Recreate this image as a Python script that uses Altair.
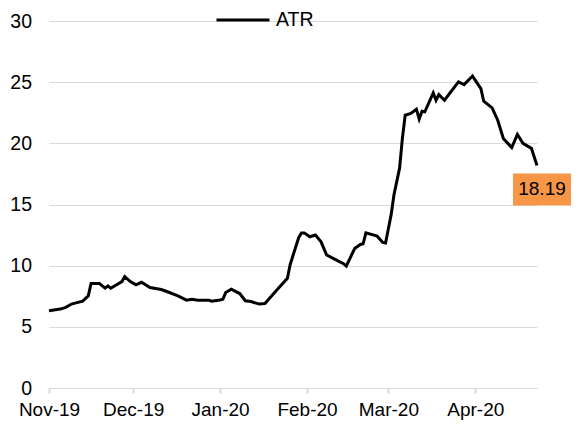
import altair as alt
import pandas as pd

dates = [
    "2019-11-01", "2019-11-05", "2019-11-07", "2019-11-09", "2019-11-11", "2019-11-13",
    "2019-11-15", "2019-11-16", "2019-11-19", "2019-11-21", "2019-11-22", "2019-11-23",
    "2019-11-27", "2019-11-28", "2019-11-30", "2019-12-02", "2019-12-04", "2019-12-07",
    "2019-12-11", "2019-12-13", "2019-12-17", "2019-12-20", "2019-12-22", "2019-12-24",
    "2019-12-28", "2019-12-29", "2020-01-01", "2020-01-02", "2020-01-03", "2020-01-05",
    "2020-01-08", "2020-01-10", "2020-01-12", "2020-01-15", "2020-01-17", "2020-01-21",
    "2020-01-25", "2020-01-26", "2020-01-29", "2020-01-30", "2020-01-31", "2020-02-02",
    "2020-02-04", "2020-02-06", "2020-02-08", "2020-02-11", "2020-02-14", "2020-02-15",
    "2020-02-18", "2020-02-20", "2020-02-21", "2020-02-22", "2020-02-26", "2020-02-28",
    "2020-02-29", "2020-03-02", "2020-03-03", "2020-03-05", "2020-03-06", "2020-03-07",
    "2020-03-09", "2020-03-11", "2020-03-12", "2020-03-13", "2020-03-14", "2020-03-17",
    "2020-03-18", "2020-03-19", "2020-03-21", "2020-03-26", "2020-03-28", "2020-03-31",
    "2020-04-03", "2020-04-04", "2020-04-07", "2020-04-09", "2020-04-11", "2020-04-14",
    "2020-04-16", "2020-04-18", "2020-04-21", "2020-04-23",
]
atr = [
    6.32, 6.45, 6.59, 6.86, 6.98, 7.10,
    7.53, 8.54, 8.54, 8.16, 8.35, 8.16,
    8.70, 9.10, 8.70, 8.43, 8.64, 8.21,
    8.05, 7.89, 7.53, 7.18, 7.26, 7.18,
    7.18, 7.10, 7.20, 7.25, 7.80, 8.07,
    7.72, 7.13, 7.07, 6.86, 6.91, 7.94,
    8.97, 10.10, 12.28, 12.68, 12.68, 12.36,
    12.50, 11.95, 10.87, 10.51, 10.16, 9.97,
    11.41, 11.73, 11.79, 12.68, 12.41, 11.90,
    11.85, 14.17, 15.80, 17.97, 20.40, 22.30,
    22.44, 22.79, 21.98, 22.63, 22.58, 24.12,
    23.52, 23.98, 23.52, 25.02, 24.80, 25.50,
    24.47, 23.44, 22.90, 21.89, 20.40, 19.65,
    20.73, 20.00, 19.59, 18.19,
]
series_name = "ATR"
y_ticks = [0, 5, 10, 15, 20, 25, 30]
month_ticks = [(2019, 11), (2019, 12), (2020, 1), (2020, 2), (2020, 3), (2020, 4)]

df = pd.DataFrame({"date": dates, "value": atr, "series": series_name})
last = df.tail(1)

FONT = "Liberation Sans"
GRID = "#d9d9d9"
FS = 19.5

x_scale = alt.Scale(
    type="utc",
    domain=[alt.DateTime(year=2019, month=11, date=1, utc=True),
            alt.DateTime(year=2020, month=4, date=23, utc=True)],
)
y_scale = alt.Scale(domain=[0, 30], nice=False, zero=True)

x_axis = alt.Axis(
    title=None, labelExpr="utcFormat(datum.value, '%b-%y')",
    values=[alt.DateTime(year=y, month=m, date=1, utc=True) for y, m in month_ticks],
    labelOverlap=False, labelFlush=False,
    grid=False, domain=True, domainColor=GRID, domainWidth=1,
    ticks=True, tickColor=GRID, tickSize=5, tickWidth=2,
    labelFont=FONT, labelFontSize=19, labelColor="#000000", labelPadding=7,
)
y_axis = alt.Axis(
    title=None, values=y_ticks, grid=True, gridColor=GRID, gridWidth=1,
    domain=False, ticks=False,
    labelFont=FONT, labelFontSize=FS, labelColor="#000000", labelPadding=17.5,
)

X = alt.X("date:T", scale=x_scale, axis=x_axis)
Y = alt.Y("value:Q", scale=y_scale, axis=y_axis)

line = alt.Chart(df).mark_line(strokeWidth=3).encode(
    x=X,
    y=Y,
    color=alt.Color(
        "series:N",
        scale=alt.Scale(range=["#000000"]),
        legend=alt.Legend(
            title=None, orient="none", legendX=166, legendY=-29, offset=0,
            symbolType="stroke", symbolSize=2809, symbolStrokeWidth=3,
            labelFont=FONT, labelFontSize=FS, labelColor="#000000",
            labelOffset=5, padding=0,
        ),
    ),
)

box = alt.Chart(last).mark_rect(
    color="#F79646", xOffset=-24, x2Offset=34, yOffset=8, y2Offset=40
).encode(
    x=X,
    x2="date:T",
    y=Y,
    y2="value:Q",
)

label = alt.Chart(last).mark_text(
    font=FONT, fontSize=19, color="#000000", dx=5, dy=24,
    align="center", baseline="middle",
).encode(
    x=X,
    y=Y,
    text=alt.Text("value:Q", format=".2f"),
)

chart = alt.layer(line, box, label).properties(
    width=488, height=367,
    autosize="none",
    padding={"left": 41, "top": 13, "right": 34, "bottom": 32},
).configure_view(stroke=None)

chart.save("out.html", embed_options={"renderer": "svg", "actions": False})
